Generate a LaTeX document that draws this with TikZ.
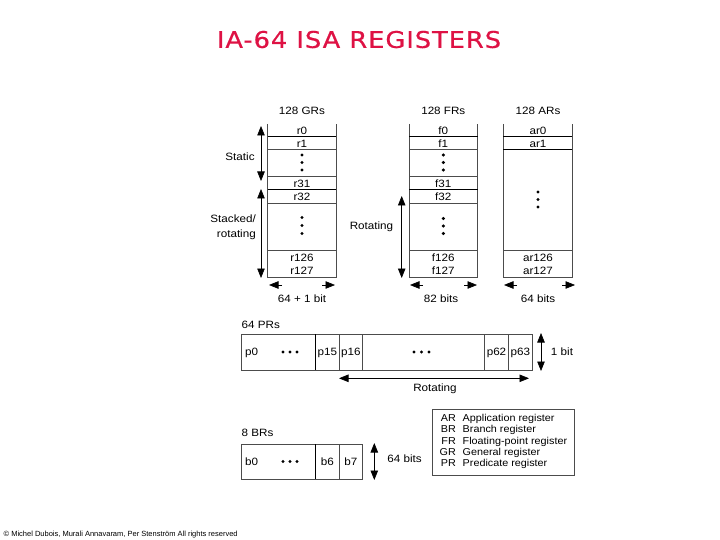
\documentclass[tikz,border=0pt]{standalone}
\usepackage{fontspec}
\setmainfont{Liberation Sans}
\newfontfamily\titlefont[FakeStretch=1.12,LetterSpace=4,FakeBold=0.6]{DejaVu Sans}
\newfontfamily\lblfont[FakeStretch=1.1]{Liberation Sans}
\newfontfamily\legfont[FakeStretch=1.08]{Liberation Sans}
\usetikzlibrary{arrows.meta}
\definecolor{titlered}{RGB}{222,18,68}
\tikzset{
  thinln/.style={draw=black!70, line width=0.6},
  thickln/.style={draw=black, line width=1.3},
  lbl/.style={font=\lblfont\fontsize{10.6}{12}\selectfont, inner sep=0, text height=7.6pt, text depth=0pt},
  leg/.style={font=\legfont\fontsize{10}{12}\selectfont, inner sep=0, text height=7.2pt, text depth=0pt},
  dbl/.style={{Triangle[length=9.5pt,width=7.5pt]}-{Triangle[length=9.5pt,width=7.5pt]}, line width=0.7},
  onearr/.style={-{Triangle[length=9.5pt,width=7.5pt]}, line width=0.7},
  regdot/.style={fill=black},
}
\begin{document}
\begin{tikzpicture}[x=1pt,y=-1pt]
\useasboundingbox (0,0) rectangle (720,540);
% title
\node[font=\titlefont\fontsize{23}{25}\selectfont, text=titlered, inner sep=0, text height=16.8pt, text depth=0pt] (title) at (359,39.5) {IA-64 ISA REGISTERS};
% ---------- GR column ----------
\node[lbl] (grh) at (302,111) {128 GRs};
\draw[thinln] (267.7,124) -- (267.7,277.3) -- (336,277.3) -- (336,124);
\draw[thickln] (267.7,136.5) -- (336,136.5);
\draw[thinln] (267.7,149.5) -- (336,149.5);
\draw[thinln] (267.7,176.5) -- (336,176.5);
\draw[thickln] (267.7,189.5) -- (336,189.5);
\draw[thinln] (267.7,203) -- (336,203);
\draw[thinln] (267.7,250.5) -- (336,250.5);
\node[lbl] (r0) at (302,130.5) {r0};
\node[lbl] (r1) at (302,143.5) {r1};
\foreach \y in {155,162.5,170} \fill[regdot] (302,\y) circle (1.7);
\node[lbl] (r31) at (302,183.3) {r31};
\node[lbl] (r32) at (302,196.5) {r32};
\foreach \y in {217.5,225.5,233.5} \fill[regdot] (302,\y) circle (1.7);
\node[lbl] (r126) at (302,257.5) {r126};
\node[lbl] (r127) at (302,270.5) {r127};
\coordinate (sA) at (261,126);
\coordinate (sB) at (261,181);
\draw[dbl] (sA) -- (sB);
\coordinate (tA) at (261,189);
\coordinate (tB) at (261,278);
\draw[dbl] (tA) -- (tB);
\node[lbl] (static) at (240,157) {Static};
\node[lbl, anchor=east] (stacked1) at (256,218.5) {Stacked/};
\node[lbl, anchor=east] (stacked2) at (256,233.5) {rotating};
\coordinate (gl1) at (282,285); \coordinate (gl2) at (269,285);
\coordinate (gr1) at (322,285); \coordinate (gr2) at (335,285);
\draw[onearr] (gl1) -- (gl2);
\draw[onearr] (gr1) -- (gr2);
\node[lbl] (grbits) at (302,298.5) {64 + 1 bit};
% ---------- FR column ----------
\node[lbl] (frh) at (443.3,111) {128 FRs};
\draw[thinln] (409,124) -- (409,277.3) -- (477.7,277.3) -- (477.7,124);
\draw[thickln] (409,136.5) -- (477.7,136.5);
\draw[thinln] (409,149.5) -- (477.7,149.5);
\draw[thinln] (409,176.5) -- (477.7,176.5);
\draw[thickln] (409,189.5) -- (477.7,189.5);
\draw[thinln] (409,203) -- (477.7,203);
\draw[thinln] (409,250.5) -- (477.7,250.5);
\node[lbl] (f0) at (443.3,130.5) {f0};
\node[lbl] (f1) at (443.3,143.5) {f1};
\foreach \y in {155,162.5,170} \fill[regdot] (443.3,\y) circle (1.7);
\node[lbl] (f31) at (443.3,183.3) {f31};
\node[lbl] (f32) at (443.3,196.5) {f32};
\foreach \y in {218.5,226,233.5} \fill[regdot] (443.3,\y) circle (1.7);
\node[lbl] (f126) at (443.3,257.5) {f126};
\node[lbl] (f127) at (443.3,270.5) {f127};
\coordinate (fA) at (401.7,196);
\coordinate (fB) at (401.7,278);
\draw[dbl] (fA) -- (fB);
\node[lbl] (frrot) at (371.5,226) {Rotating};
\coordinate (fl1) at (423,285); \coordinate (fl2) at (410,285);
\coordinate (fr1) at (464,285); \coordinate (fr2) at (477,285);
\draw[onearr] (fl1) -- (fl2);
\draw[onearr] (fr1) -- (fr2);
\node[lbl] (frbits) at (441,298.5) {82 bits};
% ---------- AR column ----------
\node[lbl] (arh) at (538,111) {128 ARs};
\draw[thinln] (503.3,124) -- (503.3,277.3) -- (572.3,277.3) -- (572.3,124);
\draw[thickln] (503.3,136.5) -- (572.3,136.5);
\draw[thickln] (503.3,149.5) -- (572.3,149.5);
\draw[thinln] (503.3,250.5) -- (572.3,250.5);
\node[lbl] (ar0) at (538,130.5) {ar0};
\node[lbl] (ar1) at (538,143.5) {ar1};
\foreach \y in {192,199.5,207} \fill[regdot] (538,\y) circle (1.7);
\node[lbl] (ar126) at (538,257.5) {ar126};
\node[lbl] (ar127) at (538,270.5) {ar127};
\coordinate (al1) at (517,285); \coordinate (al2) at (504,285);
\coordinate (ar1a) at (562,285); \coordinate (ar2a) at (575,285);
\draw[onearr] (al1) -- (al2);
\draw[onearr] (ar1a) -- (ar2a);
\node[lbl] (arbits) at (538,298.5) {64 bits};
% ---------- PR row ----------
\node[lbl, anchor=west] (prh) at (241.5,325) {64 PRs};
\draw[thinln] (241.7,334.3) rectangle (532.3,370.3);
\draw[thickln] (315.3,334.3) -- (315.3,370.3);
\draw[thinln] (339.3,334.3) -- (339.3,370.3);
\draw[thinln] (362.3,334.3) -- (362.3,370.3);
\draw[thinln] (484.7,334.3) -- (484.7,370.3);
\draw[thinln] (508.3,334.3) -- (508.3,370.3);
\node[lbl, anchor=west] (p0) at (245,352) {p0};
\foreach \x in {283,290,297} \fill[regdot] (\x,352) circle (1.6);
\node[lbl] (p15) at (327.3,352) {p15};
\node[lbl] (p16) at (350.8,352) {p16};
\foreach \x in {414,421.5,429} \fill[regdot] (\x,352) circle (1.6);
\node[lbl] (p62) at (496.5,352) {p62};
\node[lbl] (p63) at (520.3,352) {p63};
\coordinate (pA) at (541,333); \coordinate (pB) at (541,371);
\draw[dbl] (pA) -- (pB);
\node[lbl] (pbit) at (562,352) {1 bit};
\coordinate (prl) at (339,378.3); \coordinate (prr) at (529,378.3);
\draw[dbl] (prl) -- (prr);
\node[lbl] (prrot) at (435,387.5) {Rotating};
% ---------- BR row ----------
\node[lbl, anchor=west] (brh) at (241.5,432.5) {8 BRs};
\draw[thinln] (241.7,444.3) rectangle (362.3,479.3);
\draw[thickln] (315.3,444.3) -- (315.3,479.3);
\draw[thinln] (339.3,444.3) -- (339.3,479.3);
\node[lbl, anchor=west] (b0) at (245,461.5) {b0};
\foreach \x in {283,290,297} \fill[regdot] (\x,461.5) circle (1.6);
\node[lbl] (b6) at (327.3,461.5) {b6};
\node[lbl] (b7) at (350.8,461.5) {b7};
\coordinate (bA) at (374.3,443); \coordinate (bB) at (374.3,480);
\draw[dbl] (bA) -- (bB);
\node[lbl] (bbits) at (404.5,459) {64 bits};
% ---------- legend ----------
\draw[thinln] (432.3,409.7) rectangle (574,475.7);
\foreach \a/\d/\y [count=\i] in {AR/Application register/418, BR/Branch register/429.3, FR/Floating-point register/440.5, GR/General register/451.7, PR/Predicate register/463} {
  \node[leg, anchor=east] (la\i) at (456,\y) {\a};
  \node[leg, anchor=west] (ld\i) at (462.5,\y) {\d};
}
% ---------- copyright ----------
\node[font=\fontsize{7.5}{8}\selectfont, anchor=west, inner sep=0] (copy) at (3.5,535) {© Michel Dubois, Murali Annavaram, Per Stenström All rights reserved};
\end{tikzpicture}
\end{document}
